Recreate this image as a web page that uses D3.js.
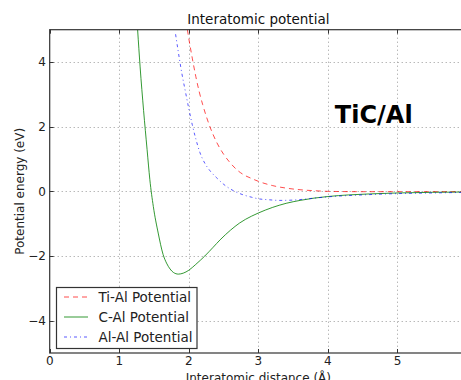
<!DOCTYPE html>
<html><head><meta charset="utf-8">
<script src="https://cdn.jsdelivr.net/npm/d3@7"></script>
<style>body{margin:0;background:#fff;} svg{display:block;font-family:"DejaVu Sans",sans-serif;}</style>
</head><body>
<script>
const titleText = "Interatomic potential";
const xLabel = "Interatomic distance (Å)";
const yLabel = "Potential energy (eV)";
const annotation = "TiC/Al";
const xTicks = [0,1,2,3,4,5];
const yTicks = [-4,-2,0,2,4];
const seriesNames = ["Ti-Al Potential","C-Al Potential","Al-Al Potential"];

const tiAlX = [1.98,2.0,2.05,2.1,2.15,2.2,2.25,2.3,2.4,2.5,2.6,2.7,2.8,2.9,3.0,3.2,3.4,3.6,3.8,4.0,4.5,5.0,5.5,6.0];
const tiAlY = [5.0,4.73,4.12,3.56,3.08,2.68,2.33,2.02,1.52,1.15,0.87,0.65,0.5,0.4,0.31,0.18,0.1,0.05,0.02,0.0,-0.01,-0.01,-0.01,-0.01];

const cAlX = [1.264,1.30,1.35,1.40,1.44,1.49,1.56,1.63,1.68,1.73,1.78,1.85,1.92,2.0,2.1,2.23,2.35,2.45,2.6,2.73,2.9,3.0,3.2,3.4,3.6,3.8,4.0,4.3,4.6,5.0,5.5,6.0];
const cAlY = [5.0,3.85,2.5,1.3,0.36,-0.47,-1.29,-1.95,-2.22,-2.4,-2.51,-2.56,-2.53,-2.44,-2.26,-2.0,-1.73,-1.5,-1.2,-0.98,-0.77,-0.67,-0.5,-0.37,-0.28,-0.21,-0.16,-0.11,-0.08,-0.05,-0.03,-0.02];

const alAlX = [1.81,1.85,1.9,1.95,2.0,2.05,2.1,2.16,2.23,2.3,2.4,2.5,2.6,2.7,2.8,2.9,3.0,3.15,3.3,3.5,3.8,4.0,4.5,5.0,5.5,6.0];
const alAlY = [4.86,4.3,3.65,3.1,2.56,2.06,1.63,1.2,0.87,0.65,0.42,0.22,0.07,-0.04,-0.12,-0.18,-0.23,-0.26,-0.28,-0.27,-0.21,-0.17,-0.11,-0.07,-0.05,-0.03];

const W = 461, H = 380;
const m = {left:49.7, top:29.7, right:467, bottom:353};
const x = d3.scaleLinear().domain([0,6]).range([m.left, m.right]);
const y = d3.scaleLinear().domain([-5,5]).range([m.bottom, m.top]);

const svg = d3.select("body").append("svg").attr("width",W).attr("height",H);
svg.append("rect").attr("width",W).attr("height",H).attr("fill","#fff");

svg.append("defs").append("clipPath").attr("id","clip").append("rect")
  .attr("x",m.left).attr("y",m.top).attr("width",m.right-m.left).attr("height",m.bottom-m.top);

// grid
const g = svg.append("g");
g.selectAll(".gx").data(xTicks.filter(d=>d>0)).join("line")
  .attr("x1",d=>Math.round(x(d))+0.5).attr("x2",d=>Math.round(x(d))+0.5)
  .attr("y1",m.top).attr("y2",m.bottom)
  .attr("stroke","#999").attr("stroke-width",1).attr("stroke-dasharray","1,3");
g.selectAll(".gy").data(yTicks).join("line")
  .attr("y1",d=>Math.round(y(d))+0.5).attr("y2",d=>Math.round(y(d))+0.5)
  .attr("x1",m.left).attr("x2",m.right)
  .attr("stroke","#999").attr("stroke-width",1).attr("stroke-dasharray","1,3");

// series
const series = [
  {name:seriesNames[0], xs:tiAlX, ys:tiAlY, color:"#ff0000", op:0.7, dash:"5,4", w:1},
  {name:seriesNames[1], xs:cAlX, ys:cAlY, color:"#008000", op:0.8, dash:null, w:1},
  {name:seriesNames[2], xs:alAlX, ys:alAlY, color:"#0000ff", op:0.65, dash:"3,3,1,3", w:1}
];
const line = d3.line().x(d=>x(d[0])).y(d=>y(d[1])).curve(d3.curveMonotoneX);
const pl = svg.append("g").attr("clip-path","url(#clip)");
series.forEach(s=>{
  pl.append("path").datum(s.xs.map((v,i)=>[v,s.ys[i]]))
    .attr("d",line).attr("fill","none").attr("stroke",s.color)
    .attr("stroke-opacity",s.op).attr("stroke-width",s.w)
    .attr("stroke-dasharray",s.dash);
});

// axes frame
const frame = svg.append("g");
frame.append("rect").attr("x",m.left).attr("y",m.top)
  .attr("width",m.right-m.left).attr("height",m.bottom-m.top)
  .attr("fill","none").attr("stroke","#333").attr("stroke-width",1.2);

// ticks (inside, all sides)
const tl = 4;
xTicks.forEach(t=>{
  const px = Math.round(x(t))+0.5;
  frame.append("line").attr("x1",px).attr("x2",px).attr("y1",m.bottom).attr("y2",m.bottom-tl).attr("stroke","#333");
  frame.append("line").attr("x1",px).attr("x2",px).attr("y1",m.top).attr("y2",m.top+tl).attr("stroke","#333");
  svg.append("text").attr("x",x(t)).attr("y",365).attr("text-anchor","middle")
    .attr("font-size",12).attr("fill","#222").text(t);
});
yTicks.forEach(t=>{
  const py = Math.round(y(t))+0.5;
  frame.append("line").attr("x1",m.left).attr("x2",m.left+tl).attr("y1",py).attr("y2",py).attr("stroke","#333");
  svg.append("text").attr("x",46).attr("y",y(t)+4.3).attr("text-anchor","end")
    .attr("font-size",12).attr("fill","#222").text(t<0 ? "\u2212"+Math.abs(t) : t);
});

// labels
svg.append("text").attr("x",(m.left+m.right)/2).attr("y",24).attr("text-anchor","middle")
  .attr("font-size",13.5).attr("fill","#111").text(titleText);
svg.append("text").attr("x",(m.left+m.right)/2).attr("y",382).attr("text-anchor","middle")
  .attr("font-size",12).attr("fill","#222").text(xLabel);
svg.append("text").attr("transform",`translate(23.5,${(m.top+m.bottom)/2}) rotate(-90)`)
  .attr("text-anchor","middle").attr("font-size",12).attr("fill","#222").text(yLabel);

// annotation
svg.append("text").attr("x",x(4.1)).attr("y",y(2.1)).attr("font-size",24)
  .attr("font-weight","bold").attr("fill","#000").text(annotation);

// legend
const lg = svg.append("g");
lg.append("rect").attr("x",56.5).attr("y",287.5).attr("width",140.5).attr("height",61)
  .attr("fill","#fff").attr("stroke","#333").attr("stroke-width",1.2);
series.forEach((s,i)=>{
  const yy = 297 + i*20;
  lg.append("line").attr("x1",64).attr("x2",88).attr("y1",yy).attr("y2",yy)
    .attr("stroke",s.color).attr("stroke-opacity",s.op).attr("stroke-width",s.w).attr("stroke-dasharray",s.dash);
  lg.append("text").attr("x",98.5).attr("y",yy+5).attr("font-size",13.5).attr("fill","#222").text(s.name);
});
</script>
</body></html>
